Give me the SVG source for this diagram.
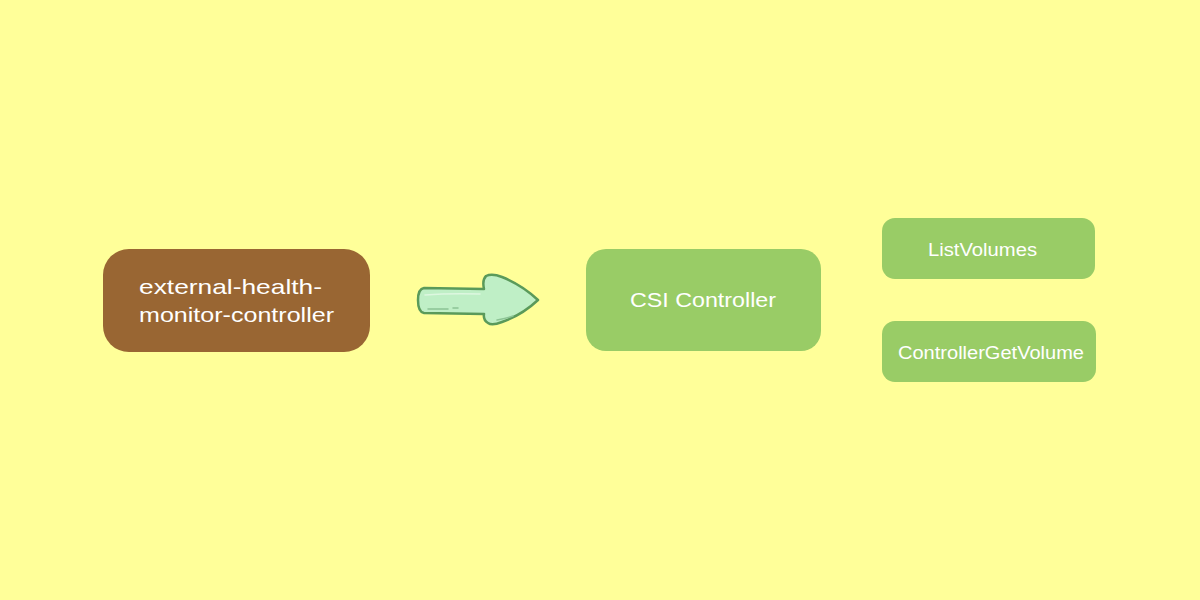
<svg xmlns="http://www.w3.org/2000/svg" width="1200" height="600" viewBox="0 0 1200 600">
<style>
.bg{fill:#FFFF99}
.t{font-family:"Liberation Sans",Arial,sans-serif;fill:#FFFFFF}
.green{fill:#99CC66}
</style>
<rect class="bg" x="0" y="0" width="1200" height="600"/>
<g id="ehmc">
<rect x="103" y="249" width="267" height="103" rx="26" fill="#996633"/>
<text class="t" x="139" y="294" font-size="21" textLength="183" lengthAdjust="spacingAndGlyphs">external-health-</text>
<text class="t" x="139" y="322" font-size="21" textLength="195" lengthAdjust="spacingAndGlyphs">monitor-controller</text>
</g>
<g id="connectors">
<path d="M424,288 L484,289 Q482,280 486,276 Q492,273 502,277 Q522,285 538,300 Q522,315 502,322 Q492,326 488,323 Q483,320 484,314 L424,313 Q418,312 418,300 Q418,289 424,288 Z" fill="#BFEFC6" stroke="#5A9A5A" stroke-width="2.5" stroke-linejoin="round"/>
<path d="M428,309 L448,309 M453,308 L458,308" stroke="#8CC495" stroke-width="1.5" fill="none" stroke-linecap="round"/>
<path d="M425,295 Q450,293 480,294" stroke="#DDF7E0" stroke-width="1.5" fill="none" stroke-linecap="round"/>
<path d="M497,320 Q508,318 513,316" stroke="#8CC495" stroke-width="1.5" fill="none" stroke-linecap="round"/>
</g>
<g id="csi">
<rect class="green" x="586" y="249" width="235" height="102" rx="20"/>
<text class="t" x="630" y="307" font-size="21" textLength="146" lengthAdjust="spacingAndGlyphs">CSI Controller</text>
</g>
<g id="listvolumes">
<rect class="green" x="882" y="218" width="213" height="61" rx="13"/>
<text class="t" x="928" y="256" font-size="17.5" textLength="109" lengthAdjust="spacingAndGlyphs">ListVolumes</text>
</g>
<g id="getvolume">
<rect class="green" x="882" y="321" width="214" height="61" rx="13"/>
<text class="t" x="898" y="359" font-size="17.5" textLength="186" lengthAdjust="spacingAndGlyphs">ControllerGetVolume</text>
</g>
</svg>
